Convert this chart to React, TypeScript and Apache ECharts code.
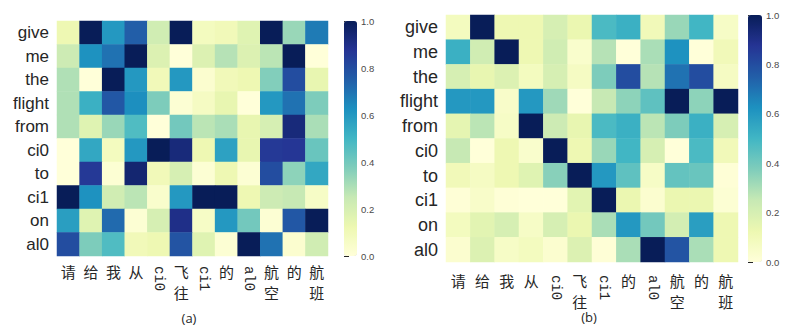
import React, { useEffect, useRef } from "react";
import * as echarts from "echarts";

const rowsA = ["give", "me", "the", "flight", "from", "ci0", "to", "ci1", "on", "al0"];
const colsA = ["请", "给", "我", "从", "ci0", "飞往", "ci1", "的", "al0", "航空", "的", "航班"];
const rowsB = ["give", "me", "the", "flight", "from", "ci0", "to", "ci1", "on", "al0"];
const colsB = ["请", "给", "我", "从", "ci0", "飞往", "ci1", "的", "al0", "航空", "的", "航班"];

const valuesA: number[][] = [
  [0.12, 1.0, 0.6, 0.75, 0.22, 1.0, 0.08, 0.1, 0.17, 1.0, 0.33, 0.68],
  [0.23, 0.62, 0.7, 1.0, 0.18, 0.0, 0.18, 0.28, 0.18, 0.27, 1.0, 0.0],
  [0.29, 0.0, 1.0, 0.6, 0.1, 0.6, 0.03, 0.1, 0.12, 0.37, 0.8, 0.14],
  [0.29, 0.52, 0.77, 0.63, 0.38, 0.02, 0.07, 0.14, 0.0, 0.6, 0.7, 0.38],
  [0.29, 0.17, 0.33, 0.47, 0.0, 0.4, 0.27, 0.3, 0.14, 0.2, 0.93, 0.3],
  [0.0, 0.55, 0.08, 0.6, 1.0, 0.93, 0.12, 0.57, 0.14, 0.86, 0.87, 0.42],
  [0.0, 0.86, 0.02, 0.95, 0.1, 0.2, 0.02, 0.12, 0.02, 0.8, 0.35, 0.55],
  [1.0, 0.62, 0.22, 0.27, 0.04, 0.6, 1.0, 1.0, 0.12, 0.23, 0.25, 0.06],
  [0.58, 0.17, 0.72, 0.02, 0.2, 0.9, 0.06, 0.6, 0.4, 0.02, 0.77, 1.0],
  [0.8, 0.38, 0.47, 0.1, 0.12, 0.78, 0.17, 0.02, 1.0, 0.7, 0.03, 0.22],
];

const valuesB: number[][] = [
  [0.08, 1.0, 0.12, 0.12, 0.2, 0.13, 0.48, 0.52, 0.1, 0.33, 0.5, 0.06],
  [0.52, 0.22, 1.0, 0.12, 0.22, 0.04, 0.28, 0.0, 0.3, 0.62, 0.0, 0.1],
  [0.2, 0.14, 0.18, 0.08, 0.2, 0.07, 0.38, 0.8, 0.28, 0.7, 0.8, 0.07],
  [0.6, 0.6, 0.05, 0.6, 0.32, 0.0, 0.25, 0.35, 0.44, 1.0, 0.35, 1.0],
  [0.15, 0.27, 0.06, 1.0, 0.23, 0.14, 0.48, 0.52, 0.27, 0.38, 0.52, 0.2],
  [0.25, 0.0, 0.12, 0.04, 1.0, 0.12, 0.33, 0.5, 0.2, 0.0, 0.48, 0.1],
  [0.1, 0.07, 0.12, 0.17, 0.36, 1.0, 0.6, 0.44, 0.06, 0.43, 0.42, 0.01],
  [0.01, 0.05, 0.01, 0.0, 0.0, 0.16, 1.0, 0.13, 0.03, 0.13, 0.13, 0.02],
  [0.08, 0.16, 0.2, 0.06, 0.2, 0.13, 0.3, 0.6, 0.4, 0.21, 0.58, 0.12],
  [0.03, 0.18, 0.06, 0.08, 0.03, 0.18, 0.01, 0.3, 1.0, 0.78, 0.3, 0.12],
];

const colorbarTicks = [0, 0.2, 0.4, 0.6, 0.8, 1.0];

const YLGNBU = [
  "#ffffd9", "#edf8b1", "#c7e9b4", "#7fcdbb", "#41b6c4",
  "#1d91c0", "#225ea8", "#253494", "#081d58",
];

const TXT = "#262626";
const TICK_TXT = "#4a4a4a";

function toCells(vals: number[][]) {
  const out: number[][] = [];
  vals.forEach((row, r) => row.forEach((v, c) => out.push([c, r, v])));
  return out;
}

const isLatin = (s: string) => /^[A-Za-z0-9]+$/.test(s);

export default function App() {
  const ref = useRef<HTMLDivElement>(null);
  useEffect(() => {
    if (!ref.current) return;
    const chart = echarts.init(ref.current, null, { renderer: "svg" });

    const panels = [
      { rows: rowsA, cols: colsA, vals: valuesA, grid: { left: 57, top: 21, width: 271, height: 235 }, cb: { left: 344, width: 13 }, yFont: 17, cnMargin: 5, ltMargin: 10 },
      { rows: rowsB, cols: colsB, vals: valuesB, grid: { left: 446, top: 15, width: 292, height: 247 }, cb: { left: 748, width: 14 }, yFont: 18, cnMargin: 8, ltMargin: 13 },
    ];

    const grid: any[] = [];
    const xAxis: any[] = [];
    const yAxis: any[] = [];
    const series: any[] = [];
    const visualMap: any[] = [];

    panels.forEach((p, i) => {
      const gHeat = grid.length;
      grid.push({ ...p.grid, containLabel: false });
      const gCb = grid.length;
      grid.push({ left: p.cb.left, width: p.cb.width, top: p.grid.top, height: p.grid.height });

      // Chinese labels (upright, stacked vertically)
      xAxis.push({
        type: "category", gridIndex: gHeat, data: p.cols, position: "bottom",
        axisLine: { show: false }, axisTick: { show: false }, splitLine: { show: false },
        axisLabel: {
          interval: (idx: number, v: string) => !isLatin(v),
          margin: p.cnMargin, color: TXT, fontSize: 15, lineHeight: 21,
          fontFamily: "Noto Sans CJK SC",
          formatter: (v: string) => v.split("").join("\n"),
        },
      });
      const xHeat = xAxis.length - 1;
      // Latin labels (rotated, reading top to bottom)
      xAxis.push({
        type: "category", gridIndex: gHeat, data: p.cols, position: "bottom",
        axisLine: { show: false }, axisTick: { show: false }, splitLine: { show: false },
        axisLabel: {
          interval: (idx: number, v: string) => isLatin(v),
          margin: p.ltMargin, rotate: -90, color: TXT, fontSize: 14,
          fontFamily: "Liberation Mono",
        },
      });
      xAxis.push({ type: "value", gridIndex: gCb, show: false, min: 0, max: 1 });

      yAxis.push({
        type: "category", gridIndex: gHeat, data: p.rows, inverse: true,
        axisLine: { show: false }, axisTick: { show: false }, splitLine: { show: false },
        axisLabel: { margin: 8, color: TXT, fontSize: p.yFont, fontFamily: "Liberation Sans" },
      });
      const yHeat = yAxis.length - 1;
      yAxis.push({
        type: "value", gridIndex: gCb, position: "right", min: 0, max: 1, interval: 0.2,
        axisLine: { show: false }, splitLine: { show: false },
        axisTick: { show: true, length: 5, lineStyle: { color: TXT, width: 1 } },
        axisLabel: {
          margin: 4, color: TICK_TXT, fontSize: 9.5, fontFamily: "Liberation Sans",
          formatter: (v: number) => (colorbarTicks.some((t) => Math.abs(t - v) < 1e-6) ? v.toFixed(1) : ""),
        },
      });

      series.push({
        type: "heatmap", xAxisIndex: xHeat, yAxisIndex: yHeat,
        data: toCells(p.vals), itemStyle: { borderWidth: 0 },
        emphasis: { disabled: true },
      });

      visualMap.push({
        type: "continuous", min: 0, max: 1, seriesIndex: i, calculable: false,
        show: true, orient: "vertical", left: p.cb.left, top: p.grid.top,
        itemWidth: p.cb.width, itemHeight: p.grid.height, padding: 0,
        text: null, showLabel: false, hoverLink: false,
        inRange: { color: YLGNBU },
      });
    });

    chart.setOption({
      animation: false,
      backgroundColor: "#ffffff",
      grid, xAxis, yAxis, series, visualMap,
      graphic: [
        { type: "text", x: 189, y: 318, style: { text: "(a)", fill: TXT, fontSize: 13, fontFamily: "Open Sans", align: "center", verticalAlign: "middle" } },
        { type: "text", x: 589, y: 317, style: { text: "(b)", fill: TXT, fontSize: 13, fontFamily: "Open Sans", align: "center", verticalAlign: "middle" } },
      ],
    });
    return () => chart.dispose();
  }, []);
  return <div ref={ref} style={{ position: "fixed", left: 0, top: 0, width: 785, height: 327 }} />;
}
